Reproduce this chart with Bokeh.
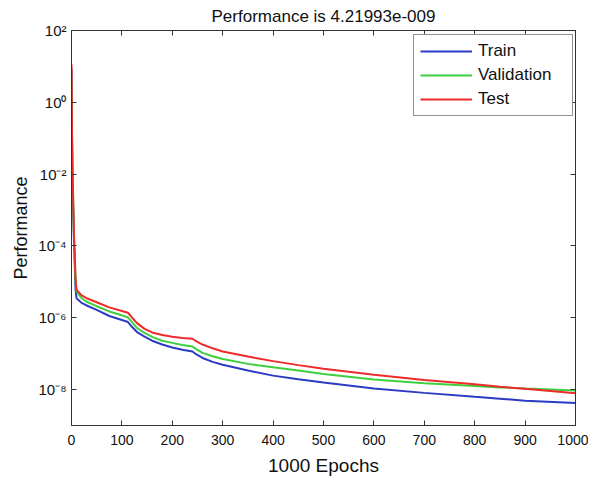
from bokeh.plotting import figure
from bokeh.models import FixedTicker, LogAxis, LinearAxis, CustomJSTickFormatter, Legend, LegendItem, Range1d
from bokeh.embed import file_html
from bokeh.resources import INLINE

# ---- data ----
epochs = [0, 1, 2, 3, 4, 5, 6, 7, 8, 10, 12, 20, 30, 50, 75, 100, 112, 120, 130, 145,
          160, 180, 200, 220, 240, 248, 260, 280, 300, 350, 400, 450, 500, 600, 700, 800,
          850, 900, 1000]
train = [8.9, 1.0e-1, 6.3e-3, 1.26e-3, 5.0e-4, 1.0e-4, 6.3e-5, 1.6e-5, 6.3e-6, 3.5e-6,
         3.3e-6, 2.6e-6, 2.2e-6, 1.66e-6, 1.12e-6, 8.7e-7, 7.6e-7, 5.6e-7, 4.0e-7, 3.0e-7,
         2.3e-7, 1.8e-7, 1.48e-7, 1.29e-7, 1.15e-7, 9.5e-8, 7.6e-8, 5.9e-8, 4.9e-8, 3.4e-8,
         2.45e-8, 1.95e-8, 1.58e-8, 1.07e-8, 8.1e-9, 6.3e-9, 5.6e-9, 4.9e-9, 4.22e-9]
validation = [7.9, 7.9e-2, 1.0e-2, 2.5e-3, 6.3e-4, 1.6e-4, 6.3e-5, 2.5e-5, 1.0e-5, 5.4e-6,
              5.0e-6, 3.5e-6, 2.8e-6, 2.1e-6, 1.5e-6, 1.17e-6, 1.02e-6, 7.6e-7, 5.2e-7, 3.8e-7,
              2.95e-7, 2.3e-7, 2.0e-7, 1.74e-7, 1.58e-7, 1.32e-7, 1.05e-7, 8.5e-8, 7.1e-8, 5.2e-8,
              4.2e-8, 3.4e-8, 2.7e-8, 1.9e-8, 1.51e-8, 1.26e-8, 1.15e-8, 1.07e-8, 9.5e-9]
test = [11.5, 1.6e-1, 1.6e-2, 3.2e-3, 7.9e-4, 2.0e-4, 7.9e-5, 3.2e-5, 1.26e-5, 6.0e-6,
        5.6e-6, 4.2e-6, 3.5e-6, 2.7e-6, 1.95e-6, 1.55e-6, 1.38e-6, 1.02e-6, 7.1e-7, 4.9e-7,
        3.9e-7, 3.3e-7, 2.95e-7, 2.75e-7, 2.6e-7, 2.2e-7, 1.8e-7, 1.41e-7, 1.15e-7, 8.3e-8,
        6.2e-8, 4.8e-8, 3.8e-8, 2.6e-8, 1.86e-8, 1.41e-8, 1.2e-8, 1.05e-8, 7.9e-9]
x_ticks = [0, 100, 200, 300, 400, 500, 600, 700, 800, 900, 1000]
y_ticks = [1e-8, 1e-6, 1e-4, 1e-2, 1e0, 1e2]
title_text = "Performance is 4.21993e-009"

FONT = "Liberation Sans"
FRAME = "#333333"
TXT = "#111111"

p = figure(width=588, height=478, y_axis_type="log", output_backend="svg",
           toolbar_location=None, x_range=Range1d(0, 1000), y_range=Range1d(1e-9, 1e2),
           min_border_left=71, min_border_right=13, min_border_top=29, min_border_bottom=52)

p.title.text = title_text
p.title.align = "center"
p.title.text_font = FONT
p.title.text_font_size = "17px"
p.title.text_font_style = "normal"
p.title.text_color = TXT
p.title.standoff = 9

p.grid.visible = False
p.outline_line_color = FRAME
p.outline_line_width = 1

sup_js = """
const sup = {'-':'\u207b','0':'\u2070','1':'\u00b9','2':'\u00b2','3':'\u00b3','4':'\u2074',
             '5':'\u2075','6':'\u2076','7':'\u2077','8':'\u2078','9':'\u2079'};
const e = Math.round(Math.log10(tick));
return '10' + String(e).split('').map(c => sup[c]).join('');
"""

def style_axis(ax, show_labels=True):
    ax.axis_line_color = FRAME
    ax.major_tick_line_color = FRAME
    ax.major_tick_in = 5
    ax.major_tick_out = 0
    ax.minor_tick_line_color = None
    ax.major_label_text_font = FONT
    ax.major_label_text_color = TXT
    ax.major_label_text_font_size = "14px"
    if not show_labels:
        ax.formatter = CustomJSTickFormatter(code="return '';")
    ax.axis_label_text_font = FONT
    ax.axis_label_text_font_style = "normal"
    ax.axis_label_text_font_size = "19px"
    ax.axis_label_text_color = TXT

xax = p.xaxis[0]
xax.ticker = FixedTicker(ticks=x_ticks)
xax.axis_label = "1000 Epochs"
style_axis(xax)
xax.major_label_standoff = 9
xax.axis_label_standoff = 7

yax = p.yaxis[0]
yax.ticker = FixedTicker(ticks=y_ticks)
yax.formatter = CustomJSTickFormatter(code=sup_js)
yax.axis_label = "Performance"
style_axis(yax)
yax.axis_label_text_font_size = "18px"
yax.major_label_text_font_size = "15px"
yax.major_label_standoff = 5
yax.axis_label_standoff = 4

top = LinearAxis(ticker=FixedTicker(ticks=x_ticks))
style_axis(top, False)
top.major_label_standoff = 0
p.add_layout(top, "above")
right = LogAxis(ticker=FixedTicker(ticks=y_ticks))
style_axis(right, False)
right.major_label_standoff = 0
p.add_layout(right, "right")

r1 = p.line(epochs, train, line_color="#2b3bc4", line_width=2)
r2 = p.line(epochs, validation, line_color="#3ecf3e", line_width=2)
r3 = p.line(epochs, test, line_color="#ee2a2a", line_width=2)

legend = Legend(items=[LegendItem(label="Train", renderers=[r1]),
                       LegendItem(label="Validation", renderers=[r2]),
                       LegendItem(label="Test", renderers=[r3])],
                location=(342, 309), margin=0)
legend.label_text_font = FONT
legend.label_text_font_size = "17px"
legend.label_text_color = TXT
legend.glyph_width = 52
legend.glyph_height = 20
legend.label_height = 20
legend.label_width = 88
legend.spacing = 4
legend.padding = 6
legend.label_standoff = 6
legend.border_line_color = "#222222"
legend.border_line_width = 1.5
legend.background_fill_alpha = 1
p.add_layout(legend)

open("out.html", "w").write(file_html(p, INLINE))
